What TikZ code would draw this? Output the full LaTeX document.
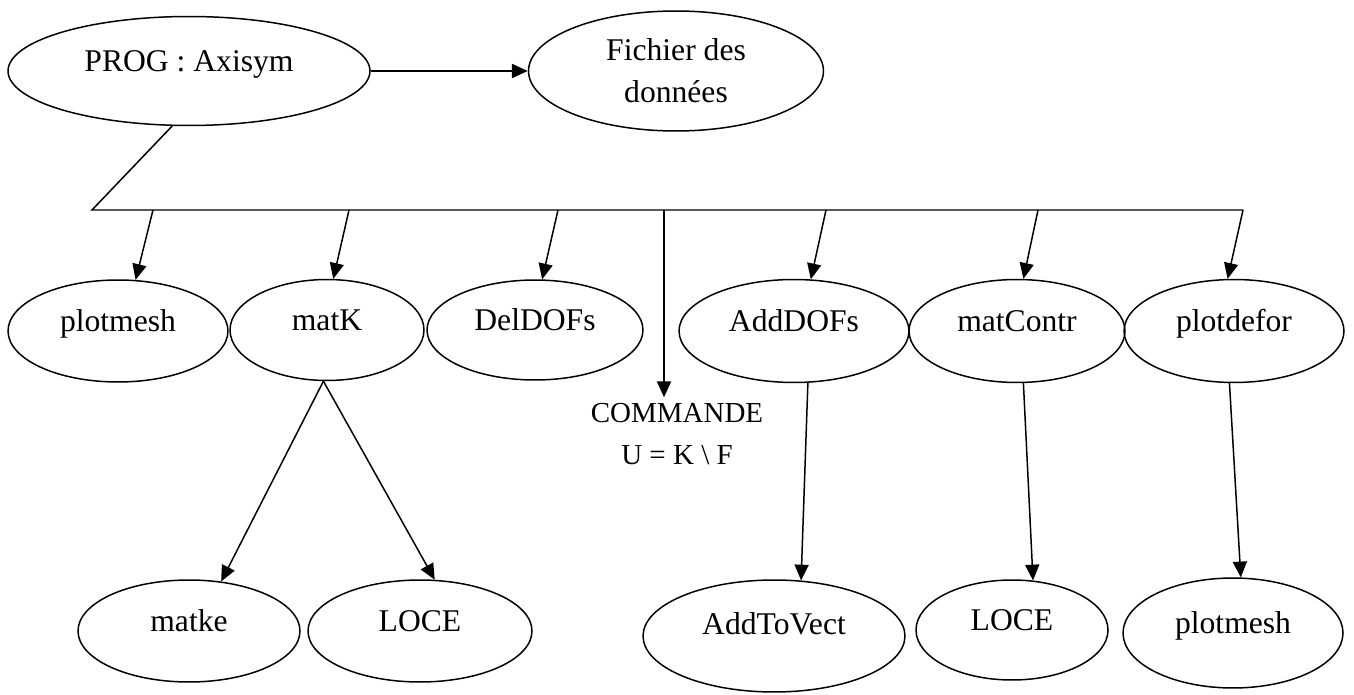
\documentclass[tikz,border=0pt]{standalone}
\usepackage{fontspec}
\setmainfont{Liberation Serif}
\usetikzlibrary{shapes.geometric,arrows.meta}

\begin{document}
\begin{tikzpicture}[x=0.02cm, y=-0.02cm, line width=0.85pt, >={Triangle[length=9pt,width=8pt]},
        ell/.style={draw, ellipse, inner sep=0pt, align=center, font=\fontsize{18}{23.9}\selectfont,
            text height=0.7em, text depth=0.6em},
        ell2/.style={draw, ellipse, inner sep=0pt, align=center, font=\fontsize{18}{23.9}\selectfont}]
        \useasboundingbox (0,0) rectangle (1354,695);

        % programme principal
        \node[ell, minimum width=7.24cm, minimum height=2.18cm] (prog) at (189,71) {PROG : Axisym};
        \node[ell2, minimum width=5.9cm, minimum height=2.4cm] (fich) at (676,71) {Fichier des\\donn\'ees};
        \draw[->] (prog) -- (fich);

        % barre de distribution
        \coordinate (g) at (92,210);
        \coordinate (b1) at (153,210);
        \coordinate (b2) at (349,210);
        \coordinate (b3) at (558,210);
        \coordinate (b4) at (664,210);
        \coordinate (b5) at (826,210);
        \coordinate (b6) at (1038,210);
        \coordinate (b7) at (1243,210);
        \draw (prog.253) -- (g) -- (b7);

        % sous-programmes
        \node[ell, minimum width=4.4cm, minimum height=2.04cm] (pm) at (118,331) {plotmesh};
        \node[ell, minimum width=3.88cm, minimum height=2.02cm] (mk) at (327,330) {matK};
        \node[ell, minimum width=4.32cm, minimum height=2cm] (dd) at (535,330) {DelDOFs};
        \node[ell, minimum width=4.6cm, minimum height=2.06cm] (ad) at (794,331) {AddDOFs};
        \node[ell, minimum width=4.32cm, minimum height=2.06cm] (mc) at (1017,331) {matContr};
        \node[ell, minimum width=4.4cm, minimum height=2.06cm] (pd) at (1234,331) {plotdefor};
        \node[align=center, inner sep=3pt, font=\fontsize{16.5}{23.9}\selectfont] (cmd) at (677,434) {COMMANDE\\U = K \textbackslash{} F};

        \draw[->] (b1) -- (pm.71);
        \draw[->] (b2) -- (mk.83);
        \draw[->] (b3) -- (dd.82);
        \draw[->] (b4) -- (b4 |- cmd.north);
        \draw[->] (b5) -- (ad.72);
        \draw[->] (b6) -- (mc.83);
        \draw[->] (b7) -- (pd.97);

        % niveau inferieur
        \node[ell, minimum width=4.44cm, minimum height=2.04cm] (mke) at (189,631) {matke};
        \node[ell, minimum width=4.48cm, minimum height=2.04cm] (lc1) at (420,631) {LOCE};
        \node[ell, minimum width=5.24cm, minimum height=2.24cm, text depth=0.92em] (atv) at (774,636) {AddToVect};
        \node[ell, minimum width=3.84cm, minimum height=2cm] (lc2) at (1012,630) {LOCE};
        \node[ell, minimum width=4.4cm, minimum height=2.2cm, text depth=0.7em] (pm2) at (1233,633) {plotmesh};

        \draw[->] (mk.266) -- (mke.57);
        \draw[->] (mk.266) -- (lc1.74);
        \draw[->] (ad.285) -- (atv.64);
        \draw[->] (mc.277) -- (lc2.67);
        \draw[->] (pd.265) -- (pm2.82);
    \end{tikzpicture}
\end{document}
